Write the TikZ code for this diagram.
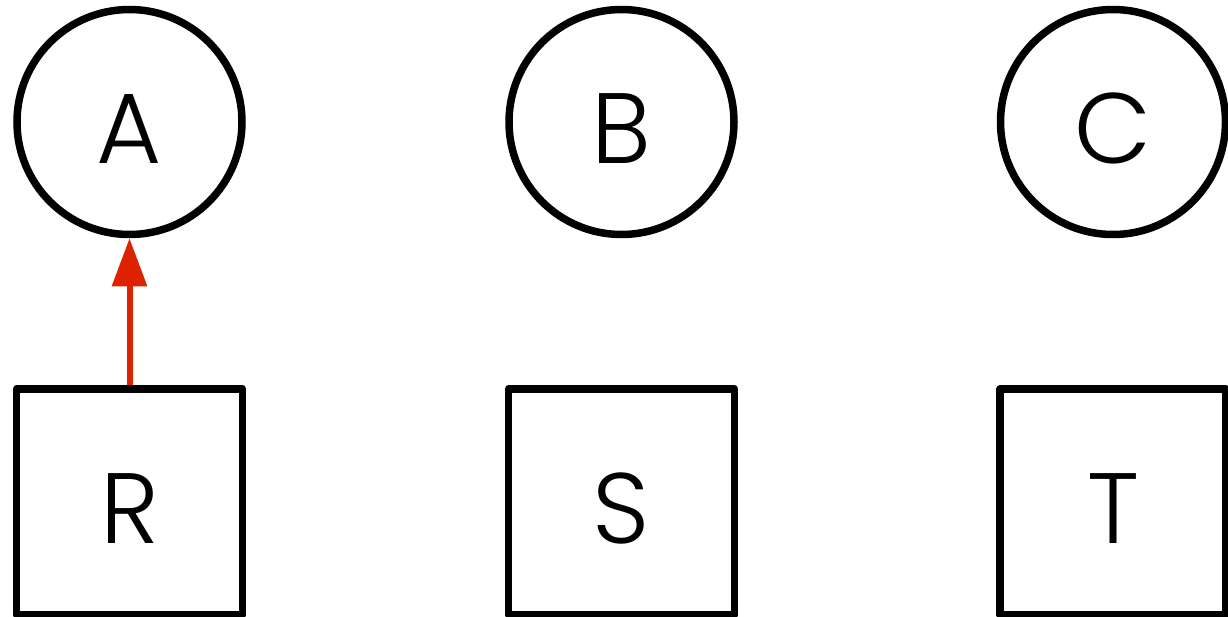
\documentclass[tikz,border=0pt]{standalone}
\usepackage{fontspec}
\setmainfont{Poppins}[UprightFont=* Light]
\usetikzlibrary{arrows.meta}
\definecolor{arrowred}{RGB}{221,34,0}
\begin{document}
\begin{tikzpicture}[x=1pt,y=-1pt,
  lbl/.style={font=\fontsize{100}{100}\selectfont,text height=82pt,text depth=0pt},
  circ/.style={lbl,circle,draw=black,line width=7.5pt,minimum size=225pt,inner sep=0pt},
  sq/.style={lbl,rectangle,draw=black,line width=7.5pt,line join=round,minimum width=226pt,minimum height=226pt,inner sep=0pt},
  link/.style={draw=arrowred,line width=6pt,-{Triangle[length=48pt,width=34pt]}}]
\useasboundingbox (0,0) rectangle (1228,616);
\node[circ] (A) at (129.5,122) {A};
\node[circ] (B) at (621.5,122) {B};
\node[circ] (C) at (1113,122) {C};
\node[sq] (R) at (129.5,502) {R};
\node[sq] (S) at (621.5,502) {S};
\node[sq] (T) at (1113,502) {T};
\draw[link] (R.north) -- (A.south);
\end{tikzpicture}
\end{document}
